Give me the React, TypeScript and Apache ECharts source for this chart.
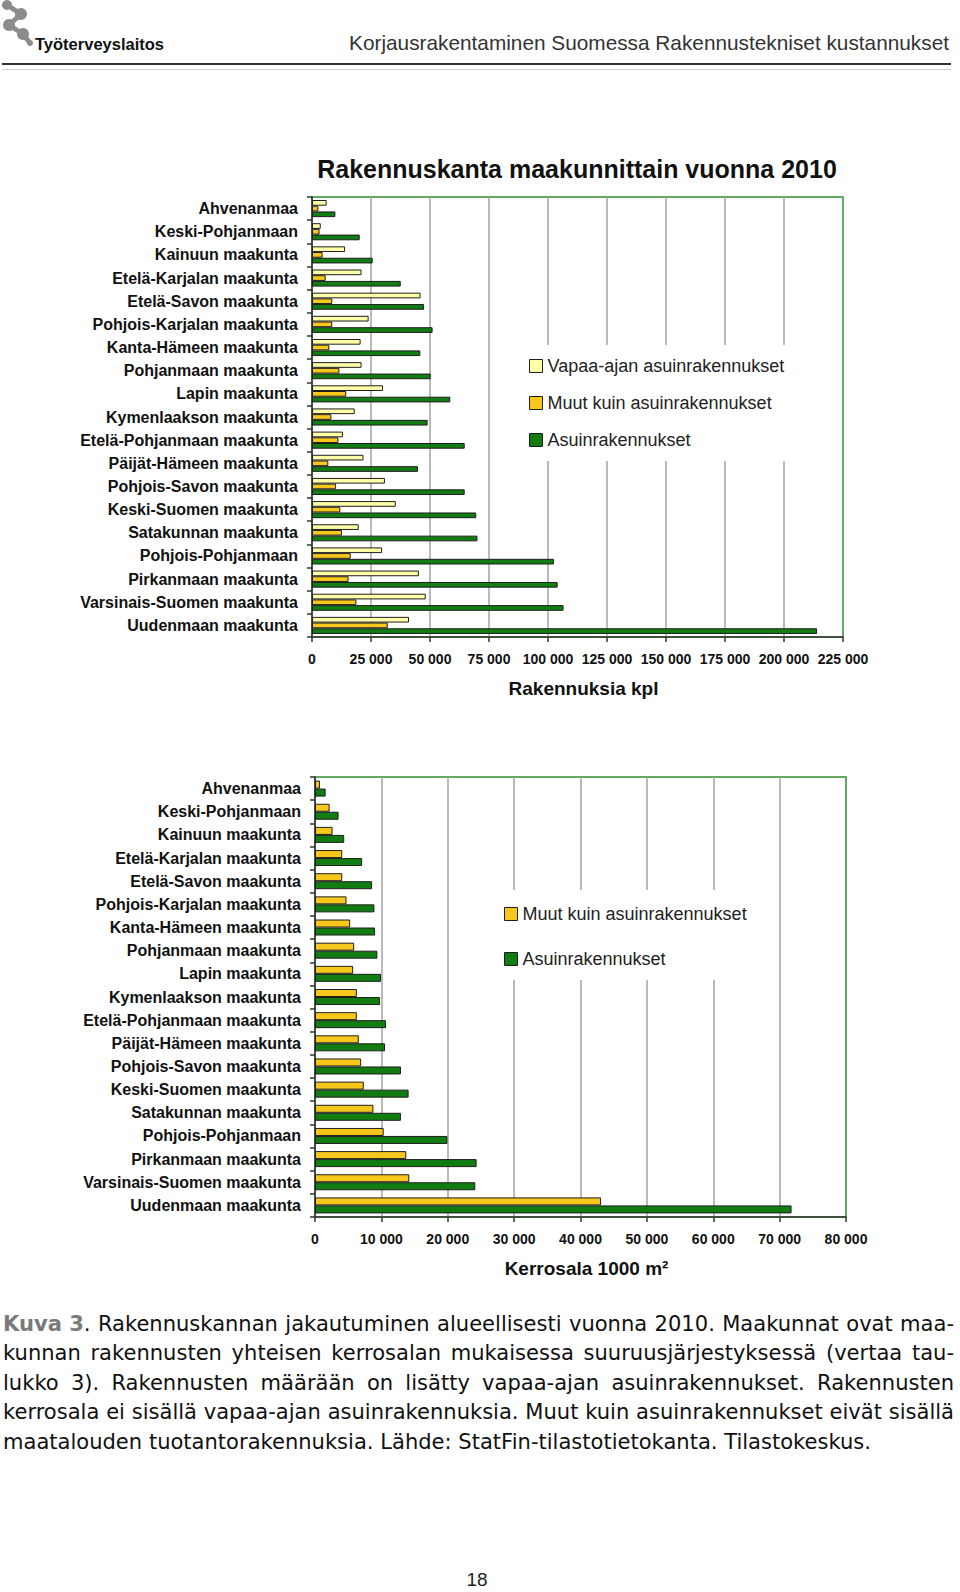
import React, { useEffect, useRef } from 'react';
import * as echarts from 'echarts';

const regions = [
  'Ahvenanmaa',
  'Keski-Pohjanmaan',
  'Kainuun maakunta',
  'Etelä-Karjalan maakunta',
  'Etelä-Savon maakunta',
  'Pohjois-Karjalan maakunta',
  'Kanta-Hämeen maakunta',
  'Pohjanmaan maakunta',
  'Lapin maakunta',
  'Kymenlaakson maakunta',
  'Etelä-Pohjanmaan maakunta',
  'Päijät-Hämeen maakunta',
  'Pohjois-Savon maakunta',
  'Keski-Suomen maakunta',
  'Satakunnan maakunta',
  'Pohjois-Pohjanmaan',
  'Pirkanmaan maakunta',
  'Varsinais-Suomen maakunta',
  'Uudenmaan maakunta',
];

// Chart 1: buildings, count
const vapaaCount = [6200, 3700, 14000, 21000, 46000, 24000, 20600, 21000, 30100, 18100, 13100, 21800, 30900, 35500, 19800, 29700, 45300, 48200, 41100];
const muutCount = [2700, 3200, 4500, 5800, 8600, 8600, 7300, 11600, 14500, 8200, 11200, 6900, 10200, 12000, 12700, 16400, 15500, 18800, 32100];
const asuinCount = [9900, 20200, 25700, 37600, 47500, 51100, 45900, 50300, 58600, 49000, 64700, 44900, 64700, 69600, 70100, 102500, 104100, 106600, 214000];

// Chart 2: floor area, 1000 m2
const muutArea = [750, 2200, 2650, 4100, 4100, 4750, 5300, 5900, 5750, 6300, 6300, 6600, 6950, 7350, 8800, 10350, 13750, 14200, 43100];
const asuinArea = [1600, 3550, 4400, 7100, 8600, 8950, 9050, 9400, 9950, 9800, 10700, 10550, 12950, 14100, 12950, 19950, 24350, 24150, 71800];

const seriesNames = ['Vapaa-ajan asuinrakennukset', 'Muut kuin asuinrakennukset', 'Asuinrakennukset'];
const chartTitle = 'Rakennuskanta maakunnittain vuonna 2010';
const countAxisName = 'Rakennuksia kpl';
const areaAxisName = 'Kerrosala 1000 m²';
const headerTitle = 'Korjausrakentaminen Suomessa Rakennustekniset kustannukset';
const orgName = 'Työterveyslaitos';
const pageNumber = '18';
const captionLines = [
  'Kuva 3. Rakennuskannan jakautuminen alueellisesti vuonna 2010. Maakunnat ovat maa-',
  'kunnan rakennusten yhteisen kerrosalan mukaisessa suuruusjärjestyksessä (vertaa tau-',
  'lukko 3). Rakennusten määrään on lisätty vapaa-ajan asuinrakennukset. Rakennusten',
  'kerrosala ei sisällä vapaa-ajan asuinrakennuksia. Muut kuin asuinrakennukset eivät sisällä',
  'maatalouden tuotantorakennuksia. Lähde: StatFin-tilastotietokanta. Tilastokeskus.',
];

const FONT = "'Liberation Sans', Arial, Helvetica, sans-serif";
const CAP_FONT = "'DejaVu Sans', sans-serif";
const C_VAPAA = '#FFFFA8';
const C_MUUT = '#F7C71C';
const C_ASUIN = '#117C11';
const C_BORDER = '#2F8F2F';
const C_EDGE = '#1e1e1e';

const fmt = (v: number) => String(v).replace(/\B(?=(\d{3})+(?!\d))/g, ' ');

function captionGraphics(): any[] {
  const ctx = document.createElement('canvas').getContext('2d') as CanvasRenderingContext2D;
  const base = 20;
  const m = (t: string, bold: boolean, size: number) => {
    ctx.font = `${bold ? 'bold ' : ''}${size}px ${CAP_FONT}`;
    return ctx.measureText(t).width;
  };
  const tokenized = captionLines.map((line, li) => {
    const words = line.split(' ');
    if (li === 0) words.splice(0, 2, 'Kuva 3.');
    return words;
  });
  const wordW = (w: string, size: number) =>
    w === 'Kuva 3.' ? m('Kuva 3', true, size) + m('.', false, size) : m(w, false, size);
  const natural = (words: string[], size: number) =>
    words.reduce((s, w) => s + wordW(w, size), 0) + (words.length - 1) * m(' ', false, size);
  const targets = [951, 951, 951, 951, 868];
  let scale = Infinity;
  tokenized.forEach((ws, i) => {
    scale = Math.min(scale, targets[i] / natural(ws, base));
  });
  const size = Math.min(22, base * scale);
  const els: any[] = [];
  tokenized.forEach((ws, i) => {
    const sum = ws.reduce((s, w) => s + wordW(w, size), 0);
    const gap = ws.length > 1 ? (targets[i] - sum) / (ws.length - 1) : 0;
    let x = 3;
    const y = 1323 + i * 29.5;
    ws.forEach((w) => {
      if (w === 'Kuva 3.') {
        els.push({
          type: 'text', x, y, z: 10,
          style: {
            text: '{b|Kuva 3}.',
            rich: { b: { fontWeight: 'bold', fill: '#7a7a7a', fontSize: size, fontFamily: CAP_FONT } },
            fontSize: size, fontFamily: CAP_FONT, fill: '#111',
            verticalAlign: 'middle', textVerticalAlign: 'middle',
          },
        });
      } else {
        els.push({
          type: 'text', x, y, z: 10,
          style: { text: w, fontSize: size, fontFamily: CAP_FONT, fill: '#111', verticalAlign: 'middle', textVerticalAlign: 'middle' },
        });
      }
      x += wordW(w, size) + gap;
    });
  });
  return els;
}

function logoGraphics(): any[] {
  const grey = '#8c8c8c';
  const pts = [[7, 5], [21, 14], [9, 25], [23, 34], [30, 43]];
  const radii = [5, 6, 6, 6, 3];
  const els: any[] = [
    { type: 'polyline', shape: { points: pts }, style: { stroke: grey, lineWidth: 5, fill: 'none', lineCap: 'round', lineJoin: 'round' } },
  ];
  pts.forEach((p, i) => els.push({ type: 'circle', shape: { cx: p[0], cy: p[1], r: radii[i] }, style: { fill: grey } }));
  return els;
}

function valueAxis(gridIndex: number, max: number, interval: number, name: string) {
  return {
    gridIndex,
    type: 'value',
    min: 0,
    max,
    interval,
    axisLine: { show: true, lineStyle: { color: '#333', width: 1.5 } },
    axisTick: { show: true, length: 5, lineStyle: { color: '#333', width: 1.5 } },
    splitLine: { show: true, showMinLine: false, showMaxLine: false, lineStyle: { color: '#a3a3a3', width: 1.5 } },
    axisLabel: { formatter: fmt, fontWeight: 'bold', fontSize: 14, color: '#111', margin: 15, fontFamily: FONT },
    name,
    nameLocation: 'middle',
    nameGap: 42,
    nameTextStyle: { fontWeight: 'bold', fontSize: 19, color: '#111', fontFamily: FONT, padding: [0, 0, 0, 12] },
  };
}

function categoryAxis(gridIndex: number) {
  return {
    gridIndex,
    type: 'category',
    data: regions,
    inverse: true,
    axisLine: { show: true, lineStyle: { color: '#333', width: 1.5 } },
    axisTick: { show: true, length: 5, lineStyle: { color: '#333', width: 1.5 } },
    splitLine: { show: false },
    axisLabel: { interval: 0, fontWeight: 'bold', fontSize: 16, color: '#111', margin: 14, fontFamily: FONT },
  };
}

const barStyle = (color: string) => ({ color, borderColor: C_EDGE, borderWidth: 1 });

export default function App() {
  const ref = useRef<HTMLDivElement>(null);
  useEffect(() => {
    if (!ref.current) return;
    const chart = echarts.init(ref.current, undefined, { renderer: 'svg' });
    const legendCommon = {
      orient: 'vertical',
      itemWidth: 13,
      itemHeight: 13,
      icon: 'rect',
      backgroundColor: '#fff',
      selectedMode: false,
      textStyle: { fontSize: 18, color: '#222', fontFamily: FONT },
      itemStyle: { borderColor: C_EDGE, borderWidth: 1 },
      z: 5,
    };
    const option: any = {
      animation: false,
      backgroundColor: '#fff',
      title: {
        text: chartTitle,
        left: 577,
        top: 156,
        padding: 0,
        textAlign: 'center',
        textStyle: { fontSize: 25, fontWeight: 'bold', color: '#111', fontFamily: FONT },
      },
      grid: [
        { left: 312, top: 197, width: 531, height: 440, show: true, borderColor: C_BORDER, borderWidth: 1.5, backgroundColor: '#fff' },
        { left: 315, top: 777, width: 531, height: 440, show: true, borderColor: C_BORDER, borderWidth: 1.5, backgroundColor: '#fff' },
      ],
      xAxis: [valueAxis(0, 225000, 25000, countAxisName), valueAxis(1, 80000, 10000, areaAxisName)],
      yAxis: [categoryAxis(0), categoryAxis(1)],
      legend: [
        { ...legendCommon, data: seriesNames, left: 521, top: 345, itemGap: 19, padding: [12, 40, 12, 8] },
        { ...legendCommon, data: seriesNames.slice(1), left: 496, top: 890, itemGap: 27, padding: [15, 10, 12, 8] },
      ],
      series: [
        { type: 'bar', name: seriesNames[0], xAxisIndex: 0, yAxisIndex: 0, data: vapaaCount, barWidth: 5.7, barGap: '0%', itemStyle: barStyle(C_VAPAA) },
        { type: 'bar', name: seriesNames[1], xAxisIndex: 0, yAxisIndex: 0, data: muutCount, barWidth: 5.7, barGap: '0%', itemStyle: barStyle(C_MUUT) },
        { type: 'bar', name: seriesNames[2], xAxisIndex: 0, yAxisIndex: 0, data: asuinCount, barWidth: 5.7, barGap: '0%', itemStyle: barStyle(C_ASUIN) },
        { type: 'bar', name: seriesNames[1], xAxisIndex: 1, yAxisIndex: 1, data: muutArea, barWidth: 8, barGap: '0%', itemStyle: barStyle(C_MUUT) },
        { type: 'bar', name: seriesNames[2], xAxisIndex: 1, yAxisIndex: 1, data: asuinArea, barWidth: 8, barGap: '0%', itemStyle: barStyle(C_ASUIN) },
      ],
      graphic: [
        ...logoGraphics(),
        {
          type: 'text', x: 35, y: 44,
          style: { text: orgName, fontSize: 16.5, fontWeight: 'bold', fontFamily: "'Liberation Sans Narrow', 'Liberation Sans', Arial, sans-serif", fill: '#111', verticalAlign: 'middle', textVerticalAlign: 'middle' },
        },
        {
          type: 'text', x: 949, y: 42,
          style: { text: headerTitle, fontSize: 20.8, fontFamily: FONT, fill: '#333', align: 'right', textAlign: 'right', verticalAlign: 'middle', textVerticalAlign: 'middle' },
        },
        { type: 'line', shape: { x1: 2, y1: 64, x2: 951, y2: 64 }, style: { stroke: '#333', lineWidth: 2 } },
        { type: 'line', shape: { x1: 2, y1: 69.5, x2: 951, y2: 69.5 }, style: { stroke: '#cfcfcf', lineWidth: 1 } },
        ...captionGraphics(),
        {
          type: 'text', x: 477, y: 1579,
          style: { text: pageNumber, fontSize: 19, fontFamily: FONT, fill: '#222', align: 'center', textAlign: 'center', verticalAlign: 'middle', textVerticalAlign: 'middle' },
        },
      ],
    };
    chart.setOption(option);
    return () => chart.dispose();
  }, []);
  return (
    <div
      ref={ref}
      style={{ position: 'absolute', left: 0, top: 0, width: 960, height: 1592, background: '#fff' }}
    />
  );
}
